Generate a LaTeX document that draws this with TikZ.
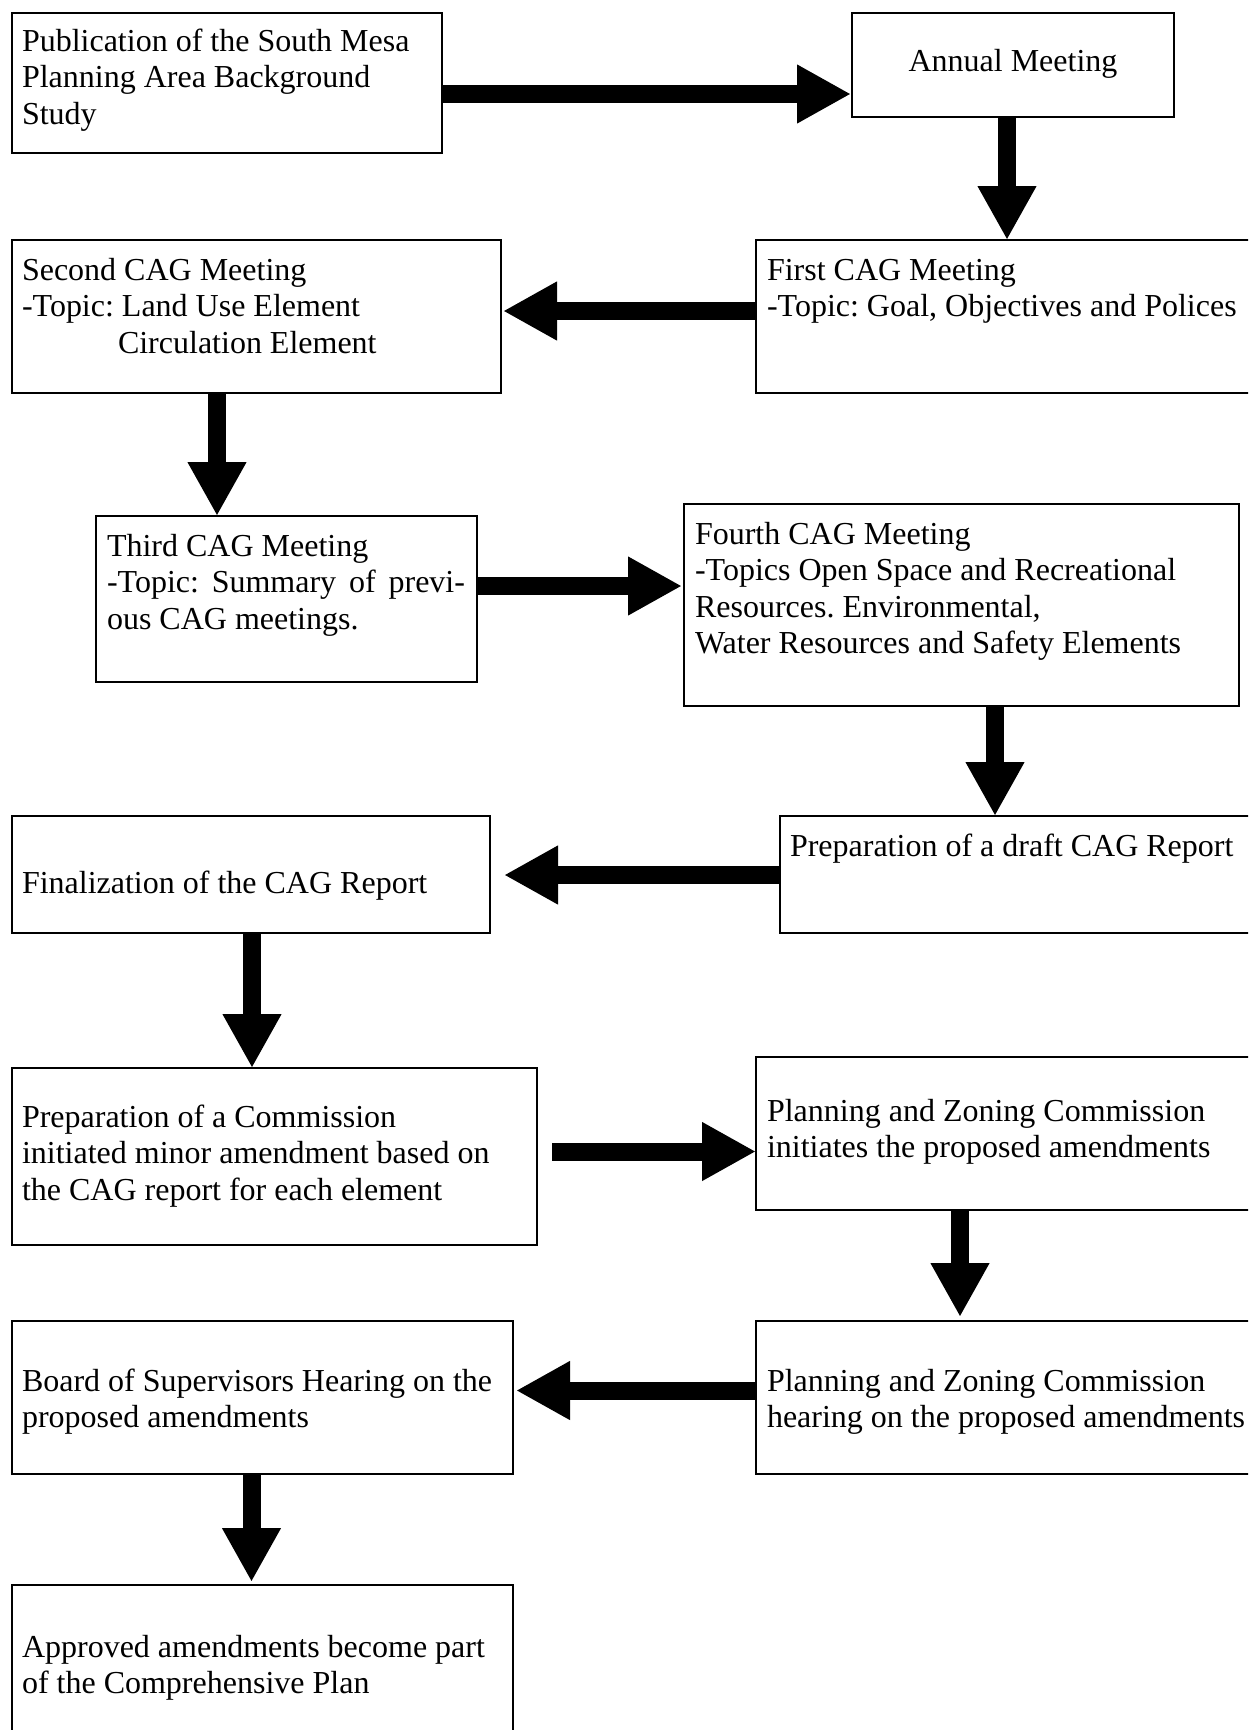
\documentclass[tikz,border=0pt]{standalone}
\usepackage{fontspec}
\setmainfont{Liberation Serif}
\usetikzlibrary{fit,arrows.meta}
\newcommand\boxlines[1]{\begin{tabular}[t]{@{}l@{}}#1\end{tabular}}
\frenchspacing
\begin{document}
\begin{tikzpicture}[x=0.5pt,y=-0.5pt,
  box/.style={draw=black,line width=1.25pt,inner sep=0pt,outer sep=0pt,fill=white},
  txt/.style={anchor=base west,inner sep=0pt,outer sep=0pt,font=\fontsize{16pt}{18.25pt}\selectfont\frenchspacing},
  fat/.style={line width=9pt,line cap=butt,-{Triangle[length=27pt,width=27.5pt]}}]
\fill[white] (0,0) rectangle (1248,1730);
\useasboundingbox (0,0) rectangle (1248,1730);
\clip (0,0) rectangle (1248,1730);
% boxes
\node[box,fit={(12,13) (442,153)}] (b1) {};
\node[box,fit={(852,13) (1174,117)}] (annual) {};
\node[box,fit={(756,240) (1256,393)}] (first) {};
\node[box,fit={(12,240) (501,393)}] (second) {};
\node[box,fit={(96,516) (477,682)}] (third) {};
\node[box,fit={(684,504) (1239,706)}] (fourth) {};
\node[box,fit={(780,816) (1256,933)}] (draft) {};
\node[box,fit={(12,816) (490,933)}] (final) {};
\node[box,fit={(12,1068) (537,1245)}] (prep) {};
\node[box,fit={(756,1057) (1256,1210)}] (pz1) {};
\node[box,fit={(756,1321) (1256,1474)}] (pz2) {};
\node[box,fit={(12,1321) (513,1474)}] (board) {};
\node[box,fit={(12,1585) (513,1745)}] (approved) {};
% texts
\node[txt] (b1t) at (22,51) {\boxlines{Publication of the South Mesa\\Planning Area Background\\Study}};
\node[txt,anchor=base] (annualt) at (1013,71) {Annual Meeting};
\node[txt] (firstt) at (767,280) {\boxlines{First CAG Meeting\\-Topic: Goal, Objectives and Polices}};
\node[txt] (secondt) at (22,280) {\boxlines{Second CAG Meeting\\-Topic: Land Use Element\\\hspace*{48pt}Circulation Element}};
\node[txt] (thirdt) at (107,556) {\boxlines{Third CAG Meeting\\\makebox[179pt][s]{-Topic: Summary of previ-}\\ous CAG meetings.}};
\node[txt] (fourtht) at (695,544) {\boxlines{Fourth CAG Meeting\\-Topics Open Space and Recreational\\Resources. Environmental,\\Water Resources and Safety Elements}};
\node[txt] (draftt) at (790,856) {Preparation of a draft CAG Report};
\node[txt] (finalt) at (22,893) {Finalization of the CAG Report};
\node[txt] (prept) at (22,1127) {\boxlines{Preparation of a Commission\\initiated minor amendment based on\\the CAG report for each element}};
\node[txt] (pz1t) at (767,1121) {\boxlines{Planning and Zoning Commission\\initiates the proposed amendments}};
\node[txt] (pz2t) at (767,1391) {\boxlines{Planning and Zoning Commission\\hearing on the proposed amendments}};
\node[txt] (boardt) at (22,1391) {\boxlines{Board of Supervisors Hearing on the\\proposed amendments}};
\node[txt] (approvedt) at (22,1657) {\boxlines{Approved amendments become part\\of the Comprehensive Plan}};
% arrow lanes
\coordinate (l1) at (0,94);
\coordinate (l2) at (1007,0);
\coordinate (l3) at (0,311);
\coordinate (l4) at (217,0);
\coordinate (l5) at (0,586);
\coordinate (l6) at (995,0);
\coordinate (l7) at (0,875);
\coordinate (l8) at (252,0);
\coordinate (l9) at (0,1151.5);
\coordinate (l10) at (960,0);
\coordinate (l11) at (0,1390.5);
\coordinate (l12) at (251.5,0);
% arrows
\draw[fat,shorten >=0.5pt] (b1.east |- l1) -- (annual.west |- l1);
\draw[fat] (annual.south -| l2) -- (first.north -| l2);
\draw[fat,shorten >=1pt] (first.west |- l3) -- (second.east |- l3);
\draw[fat] (second.south -| l4) -- (third.north -| l4);
\draw[fat,shorten >=1pt] (third.east |- l5) -- (fourth.west |- l5);
\draw[fat] (fourth.south -| l6) -- (draft.north -| l6);
\draw[fat,shorten >=7pt] (draft.west |- l7) -- (final.east |- l7);
\draw[fat] (final.south -| l8) -- (prep.north -| l8);
\draw[fat,shorten <=7.5pt] (prep.east |- l9) -- (pz1.west |- l9);
\draw[fat,shorten >=2pt] (pz1.south -| l10) -- (pz2.north -| l10);
\draw[fat,shorten >=1.5pt] (pz2.west |- l11) -- (board.east |- l11);
\draw[fat,shorten >=1.5pt] (board.south -| l12) -- (approved.north -| l12);
\end{tikzpicture}
\end{document}
